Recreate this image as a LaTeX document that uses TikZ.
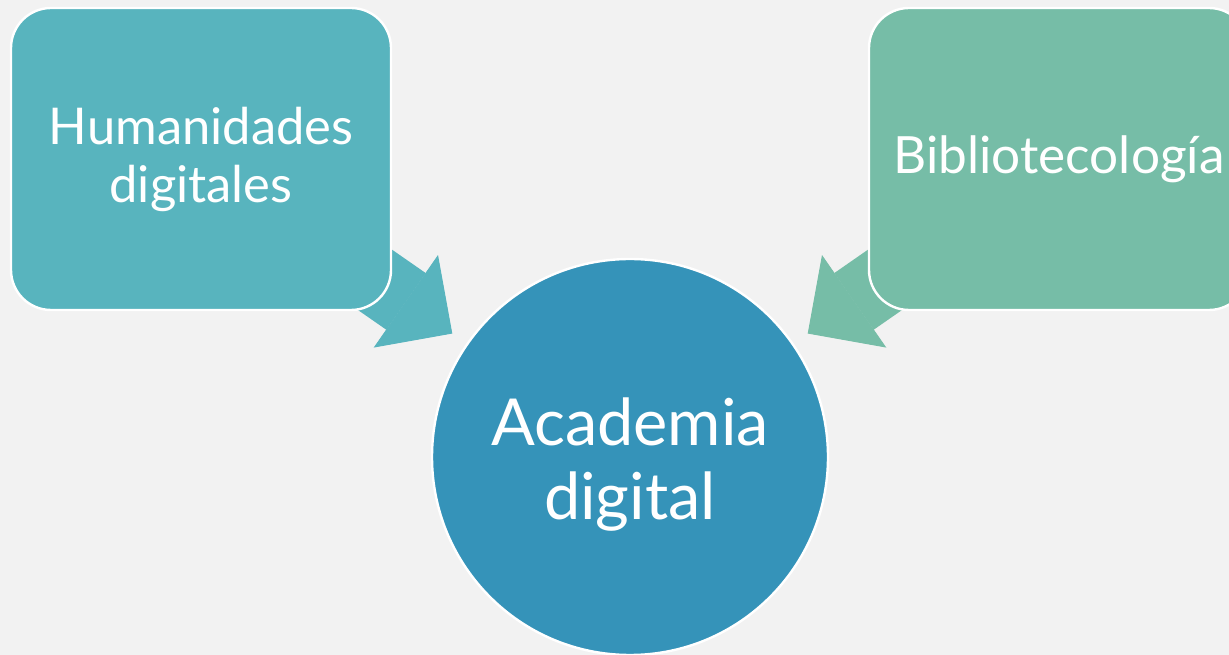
\documentclass[tikz,border=0pt]{standalone}
\usepackage{fontspec}
\setmainfont{Lato}
\usetikzlibrary{arrows.meta,positioning}

\definecolor{bgGray}{HTML}{F2F2F2}
\definecolor{humTeal}{HTML}{58B4BE}
\definecolor{bibGreen}{HTML}{76BDA7}
\definecolor{acadBlue}{HTML}{3593B9}

\pgfdeclarelayer{canvas}
\pgfdeclarelayer{arrows}
\pgfsetlayers{canvas,arrows,main}

\tikzset{
  box/.style = {rectangle, rounded corners=30pt, draw=white, line width=1.8pt,
    minimum width=285pt, minimum height=226.5pt, align=center, text=white,
    inner sep=0pt, outer sep=0pt},
  disc/.style = {circle, draw=white, line width=1.8pt, fill=acadBlue,
    minimum size=297pt, align=center, text=white, inner sep=0pt, outer sep=0pt},
  feed/.style = {line width=51.75pt,
    -{Triangle[length=42.4pt, width=84.4pt, line width=0.7pt]}, shorten >=13.8pt}
}

\begin{document}
\begin{tikzpicture}[x=0.75pt, y=-0.75pt]
\useasboundingbox (0,0) rectangle (1229,655);
\begin{pgfonlayer}{canvas}
\fill[bgGray] (0,0) rectangle (1229,655);
\end{pgfonlayer}

\node[disc, font=\fontsize{48.6}{55.5}\selectfont] (acad) at (630,457) {\\[-8pt]Academia\\digital};
\node[box, fill=humTeal, font=\fontsize{38}{43.5}\selectfont] (hum) at (201,159) {Humanidades\\digitales};
\node[box, fill=bibGreen, font=\fontsize{38.5}{43.5}\selectfont, right=358.5pt of hum] (bib) {Bibliotecología};

% block arrows into the circle
\begin{pgfonlayer}{arrows}
\draw[feed, humTeal] (hum.center) -- (acad);
\draw[feed, bibGreen] (bib.center) -- (acad);
\end{pgfonlayer}
\end{tikzpicture}
\end{document}
